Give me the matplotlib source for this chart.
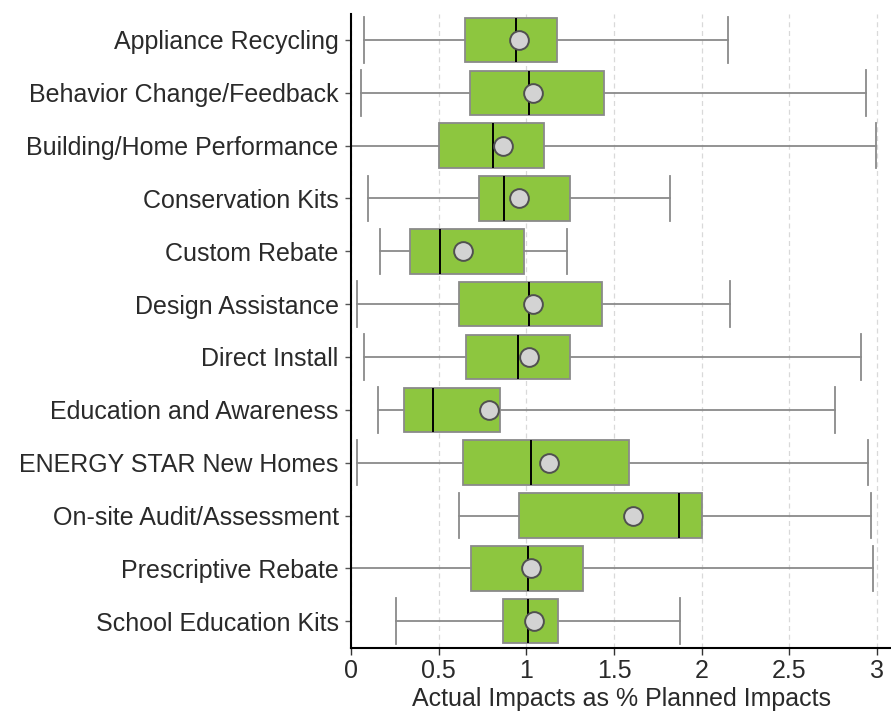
import matplotlib
matplotlib.use("Agg")
import matplotlib.pyplot as plt

plt.rcParams['font.family'] = ['Liberation Sans', 'DejaVu Sans']

# program types, top to bottom
categories = [
    "Appliance Recycling",
    "Behavior Change/Feedback",
    "Building/Home Performance",
    "Conservation Kits",
    "Custom Rebate",
    "Design Assistance",
    "Direct Install",
    "Education and Awareness",
    "ENERGY STAR New Homes",
    "On-site Audit/Assessment",
    "Prescriptive Rebate",
    "School Education Kits",
]

# box plot stats
whisker_lo = [0.074, 0.056, 0.0, 0.095, 0.163, 0.036, 0.074, 0.151, 0.036, 0.614, 0.0, 0.255]
q1 = [0.648, 0.676, 0.499, 0.732, 0.338, 0.618, 0.656, 0.300, 0.638, 0.958, 0.687, 0.867]
median = [0.940, 1.016, 0.807, 0.875, 0.509, 1.016, 0.950, 0.469, 1.024, 1.869, 1.010, 1.010]
mean = [0.956, 1.040, 0.865, 0.958, 0.638, 1.040, 1.016, 0.787, 1.127, 1.606, 1.026, 1.042]
q3 = [1.175, 1.445, 1.099, 1.250, 0.988, 1.429, 1.250, 0.847, 1.588, 2.000, 1.321, 1.180]
whisker_hi = [2.149, 2.937, 2.994, 1.821, 1.229, 2.159, 2.910, 2.760, 2.948, 2.964, 2.976, 1.875]

xticks = [0, 0.5, 1, 1.5, 2, 2.5, 3]
xtick_labels = ["0", "0.5", "1", "1.5", "2", "2.5", "3"]

stats = []
for i in range(len(categories)):
    stats.append({
        "label": categories[i],
        "whislo": whisker_lo[i],
        "q1": q1[i],
        "med": median[i],
        "mean": mean[i],
        "q3": q3[i],
        "whishi": whisker_hi[i],
        "fliers": [],
    })

fig = plt.figure(figsize=(8.91, 7.14), dpi=100)
ax = fig.add_axes([0.394, 0.093, 0.606, 0.888])

n = len(categories)
positions = list(range(n))
gray = "#8a8a8a"
txt = "#2a2a2a"

ax.bxp(stats, positions=positions, vert=False, widths=0.84, capwidths=0.86,
       patch_artist=True, showmeans=True, manage_ticks=False,
       boxprops=dict(facecolor="#8dc63f", edgecolor=gray, linewidth=1.3),
       medianprops=dict(color="black", linewidth=1.4),
       whiskerprops=dict(color=gray, linewidth=1.3),
       capprops=dict(color=gray, linewidth=1.3),
       meanprops=dict(marker="o", markersize=13.5, markerfacecolor="#d3d3d3",
                      markeredgecolor="#505050", markeredgewidth=1.4))

ax.set_xlim(0, 3.08)
ax.set_ylim(n - 0.5, -0.5)
ax.set_yticks(positions)
ax.set_yticklabels(categories, fontsize=18, color=txt)
ax.set_xticks(xticks)
ax.set_xticklabels(xtick_labels, fontsize=18, color=txt)
ax.tick_params(axis="y", length=4, width=1, color="#555555", pad=5)
ax.tick_params(axis="x", length=5, width=1, color="#333333", pad=3)

ax.grid(axis="x", color="#d9d9d9", linestyle=(0, (4, 3)), linewidth=0.9)
ax.set_axisbelow(True)

for s in ["top", "right"]:
    ax.spines[s].set_visible(False)
ax.spines["bottom"].set_color("black")
ax.spines["bottom"].set_linewidth(1.5)
ax.spines["left"].set_color("black")
ax.spines["left"].set_linewidth(1.5)
ax.spines["left"].set_linestyle((0, (2, 1)))

ax.set_xlabel("Actual Impacts as % Planned Impacts", fontsize=18, color=txt, labelpad=3)

fig.savefig("out.png", dpi=100)
